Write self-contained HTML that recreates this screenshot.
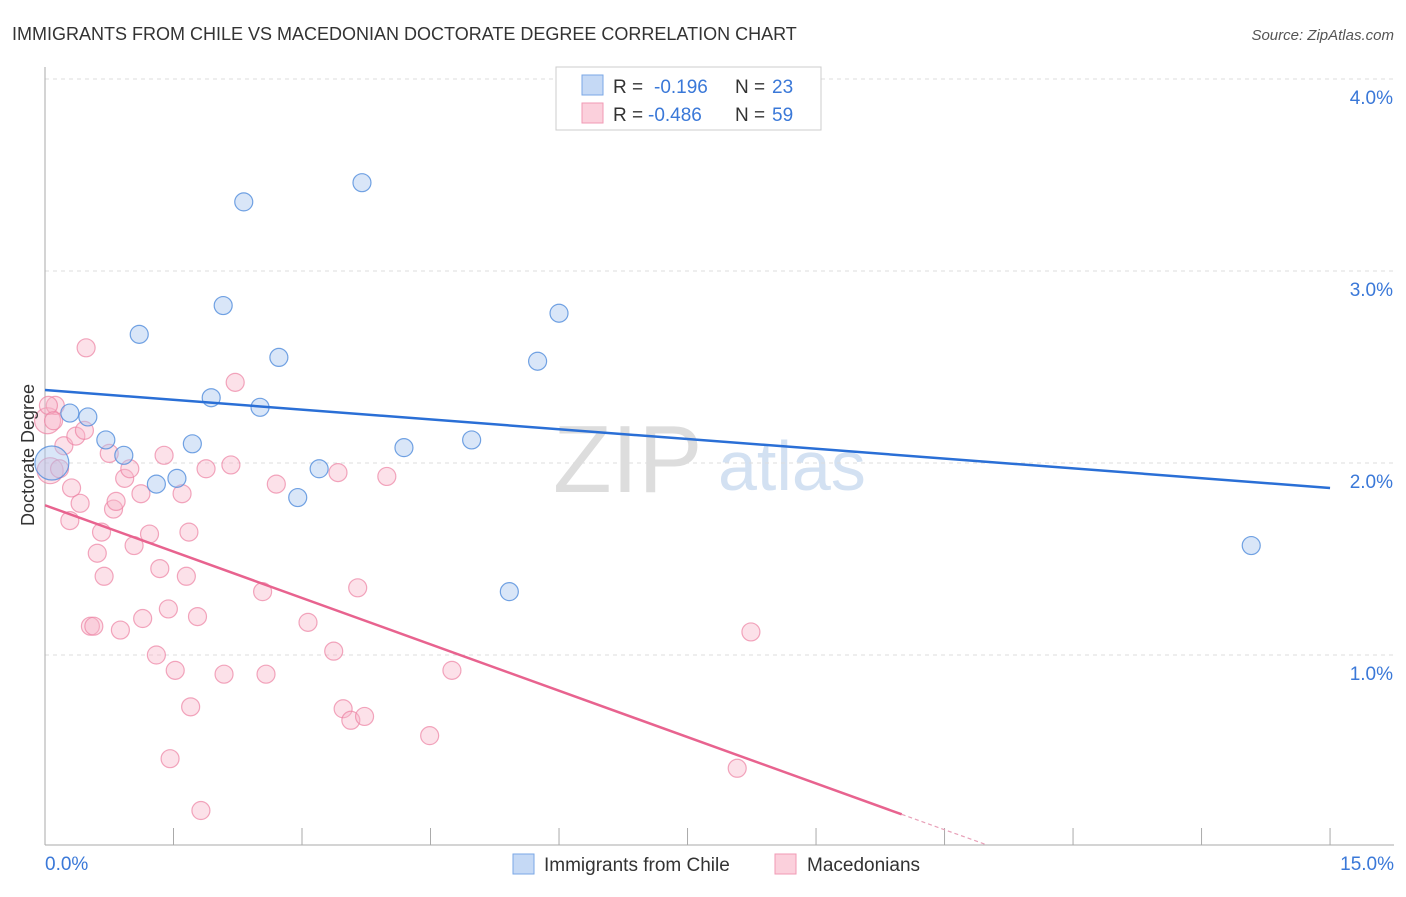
<!DOCTYPE html>
<html><head><meta charset="utf-8"><style>
body{margin:0;background:#fff;font-family:"Liberation Sans",sans-serif;}
svg text{font-family:"Liberation Sans",sans-serif;}
</style></head><body>
<svg id="chart" width="1406" height="892" xmlns="http://www.w3.org/2000/svg">
<text x="12" y="40" font-size="18" fill="#333">IMMIGRANTS FROM CHILE VS MACEDONIAN DOCTORATE DEGREE CORRELATION CHART</text>
<text x="1394" y="40" font-size="15" fill="#555" font-style="italic" text-anchor="end">Source: ZipAtlas.com</text>
<g>
<text x="553" y="492" font-size="96" font-family="Liberation Serif" fill="#ddd">ZIP</text>
<text x="718" y="490" font-size="70" fill="#c9daf0" opacity="0.8">atlas</text>
</g>
<g id="grid"></g>
<g id="axes"></g>
<g id="marks"></g>
<text x="34" y="455" font-size="18" fill="#333" text-anchor="middle" transform="rotate(-90 34 455)">Doctorate Degree</text>
<g>
<rect x="556" y="67" width="265" height="63" fill="#fff" stroke="#ccc"/>
<rect x="582" y="75" width="21" height="20" fill="#c5d9f5" stroke="#7aa7e6"/>
<rect x="582" y="103" width="21" height="20" fill="#fbd0dc" stroke="#f09ab4"/>
<text x="613" y="93" font-size="19" fill="#333">R =</text>
<text x="654" y="93" font-size="19" fill="#3a78d8">-0.196</text>
<text x="735" y="93" font-size="19" fill="#333">N =</text>
<text x="772" y="93" font-size="19" fill="#3a78d8">23</text>
<text x="613" y="121" font-size="19" fill="#333">R =</text>
<text x="648" y="121" font-size="19" fill="#3a78d8">-0.486</text>
<text x="735" y="121" font-size="19" fill="#333">N =</text>
<text x="772" y="121" font-size="19" fill="#3a78d8">59</text>
</g>
<g>
<rect x="513" y="854" width="21" height="20" fill="#c5d9f5" stroke="#7aa7e6"/>
<text x="544" y="871" font-size="19" fill="#333">Immigrants from Chile</text>
<rect x="775" y="854" width="21" height="20" fill="#fbd0dc" stroke="#f09ab4"/>
<text x="807" y="871" font-size="19" fill="#333">Macedonians</text>
</g>
</svg>
<script>
const xTicks=[0,1.5,3,4.5,6,7.5,9,10.5,12,13.5,15];
const yTicks=[1,2,3,4];
const chileX=[0.08,0.29,0.50,0.71,0.92,1.10,1.30,1.54,1.72,1.94,2.08,2.32,2.51,2.73,2.95,3.20,3.70,4.19,4.98,5.42,5.75,6.00,14.08];
const chileY=[2.00,2.26,2.24,2.12,2.04,2.67,1.89,1.92,2.10,2.34,2.82,3.36,2.29,2.55,1.82,1.97,3.46,2.08,2.12,1.33,2.53,2.78,1.57];
const macX=[0.03,0.06,0.12,0.17,0.22,0.29,0.31,0.36,0.41,0.46,0.48,0.53,0.57,0.61,0.66,0.69,0.75,0.80,0.83,0.88,0.93,0.99,1.04,1.12,1.14,1.22,1.30,1.34,1.39,1.44,1.46,1.52,1.60,1.65,1.68,1.70,1.82,1.88,2.09,2.17,2.22,2.54,2.58,2.70,3.07,3.37,3.42,3.48,3.57,3.65,3.73,3.99,4.49,4.75,8.08,8.24,0.04,0.10,1.78];
const macY=[2.22,1.96,2.30,1.97,2.09,1.70,1.87,2.14,1.79,2.17,2.60,1.15,1.15,1.53,1.64,1.41,2.05,1.76,1.80,1.13,1.92,1.97,1.57,1.84,1.19,1.63,1.00,1.45,2.04,1.24,0.46,0.92,1.84,1.41,1.64,0.73,0.19,1.97,0.90,1.99,2.42,1.33,0.90,1.89,1.17,1.02,1.95,0.72,0.66,1.35,0.68,1.93,0.58,0.92,0.41,1.12,2.30,2.22,1.20];
const chileTrend=[[0,2.38],[15,1.87]];
const macTrend=[[0,1.78],[10.0,0.17],[11.0,0.01]];
const sx=v=>45+v*85.67, sy=v=>847-v*192;
const NS="http://www.w3.org/2000/svg";
function mk(parent,tag,attrs){const e=document.createElementNS(NS,tag);for(const k in attrs)e.setAttribute(k,attrs[k]);document.getElementById(parent).appendChild(e);return e;}
yTicks.forEach(t=>{
 const l=mk('grid','line',{x1:45,x2:1394,y1:sy(t),y2:sy(t),stroke:'#ddd','stroke-dasharray':'4 4'});
 
 
 const tx=mk('grid','text',{x:1393,y:sy(t)+25,'font-size':19,fill:'#3a78d8','text-anchor':'end'});tx.textContent=t.toFixed(1)+'%';
 
 
});
const ax=mk('axes','line',{x1:45,x2:45,y1:67,y2:845,stroke:'#aaa'});


const bx=mk('axes','line',{x1:45,x2:1394,y1:845,y2:845,stroke:'#aaa'});


xTicks.forEach(t=>{
 const l=mk('axes','line',{x1:sx(t),x2:sx(t),y1:828,y2:845,stroke:'#aaa'});
 
 
});
[[0,'start',45],[15,'end',1394]].forEach(([t,a,x])=>{
 const tx=mk('axes','text',{x:x,y:870,'font-size':19,fill:'#3a78d8','text-anchor':a});tx.textContent=t.toFixed(1)+'%';
 
 
});
macX.forEach((v,i)=>{
 const c=mk('marks','circle',{cx:sx(v),cy:sy(macY[i]),r:i<2?13:9,fill:'rgba(248,180,200,0.4)',stroke:'rgba(236,130,162,0.7)','stroke-width':1.2});
 
 
});
chileX.forEach((v,i)=>{
 const c=mk('marks','circle',{cx:sx(v),cy:sy(chileY[i]),r:i==0?17:9,fill:'rgba(170,200,240,0.45)',stroke:'rgba(80,140,220,0.8)','stroke-width':1.2});
 
 
});
const bl=mk('marks','line',{x1:sx(chileTrend[0][0]),y1:sy(chileTrend[0][1]),x2:sx(chileTrend[1][0]),y2:sy(chileTrend[1][1]),stroke:'#2a6fd6','stroke-width':2.5});


const pl=mk('marks','line',{x1:sx(macTrend[0][0]),y1:sy(macTrend[0][1]),x2:sx(macTrend[1][0]),y2:sy(macTrend[1][1]),stroke:'#e8638f','stroke-width':2.5});


const pd=mk('marks','line',{x1:sx(macTrend[1][0]),y1:sy(macTrend[1][1]),x2:sx(macTrend[2][0]),y2:sy(macTrend[2][1]),stroke:'#e8a0b8','stroke-width':1.2,'stroke-dasharray':'4 3'});


</script>
</body></html>
